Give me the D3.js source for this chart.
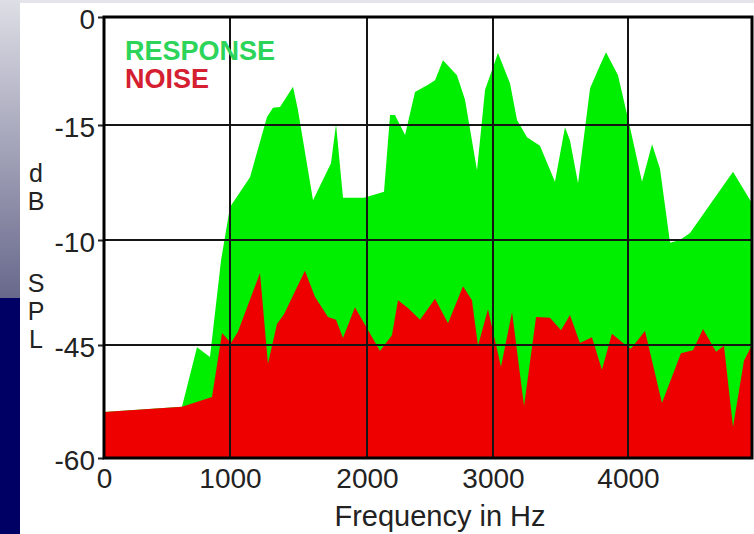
<!DOCTYPE html>
<html>
<head>
<meta charset="utf-8">
<script src="https://cdn.jsdelivr.net/npm/d3@7"></script>
<style>
  body { margin: 0; background: #fff; }
  svg { display: block; }
</style>
</head>
<body>
<div id="chart"></div>
<script>
// frequency (Hz)
var responseHz = [0, 619, 738, 841, 929, 1000, 1146, 1270, 1314, 1365, 1460, 1496, 1606, 1737, 1774, 1825,
  1978, 2135, 2183, 2222, 2302, 2381, 2484, 2540, 2603, 2714, 2778, 2873, 2937, 3037, 3126, 3178, 3252,
  3348, 3459, 3533, 3570, 3630, 3719, 3793, 3837, 3926, 4016, 4113, 4194, 4258, 4339, 4419, 4500, 4847, 5000];
var responseDb = [-53.9, -53.2, -45.3, -46.6, -32.9, -25.7, -21.8, -13.9, -12.6, -12.5, -9.7, -12.9, -24.8, -20.0, -14.9, -24.5,
  -24.5, -23.7, -13.6, -13.6, -16.3, -10.4, -9.4, -8.8, -6.0, -8.1, -11.5, -20.9, -10.1, -5.0, -9.2, -14.3, -16.6,
  -17.7, -22.4, -15.3, -17.0, -22.6, -9.9, -6.7, -4.9, -8.1, -15.3, -22.4, -17.5, -20.7, -30.4, -30.0, -29.1, -21.1, -25.2];

var noiseHz = [0, 619, 857, 937, 1007, 1058, 1219, 1277, 1343, 1394, 1547, 1620, 1715, 1774, 1825, 1912,
  2000, 2103, 2198, 2246, 2325, 2421, 2540, 2643, 2762, 2833, 2881, 2960, 3059, 3141, 3230, 3319, 3422,
  3504, 3570, 3644, 3733, 3807, 3881, 3963, 4024, 4137, 4274, 4427, 4524, 4605, 4710, 4774, 4847, 4935, 5000];
var noiseDb = [-53.9, -53.2, -51.9, -43.3, -44.7, -43.1, -34.7, -47.5, -42.0, -40.6, -34.4, -38.1, -41.0, -41.4, -44.0, -39.6,
  -42.6, -45.8, -43.6, -38.6, -39.7, -41.4, -38.4, -41.9, -36.6, -38.6, -45.1, -39.9, -47.9, -40.3, -53.1, -41.0, -41.1,
  -42.9, -40.7, -44.7, -43.9, -48.3, -43.4, -44.7, -45.5, -43.0, -52.7, -46.1, -45.7, -42.7, -45.9, -45.1, -55.9, -47.1, -45.0];

var xTicks = [0, 1000, 2000, 3000, 4000];
var yTicks = [0, -15, -30, -45, -60];
var yTickLabels = ["0", "-15", "-10", "-45", "-60"];   // as printed on the original
var yTitle = ["dB", "SPL"];

var W = 754, H = 534;
var font = "'Liberation Sans', Arial, sans-serif";
var svg = d3.select("#chart").append("svg")
  .attr("width", W)
  .attr("height", H);

// slide background strip on the left
var defs = svg.append("defs");
var grad = defs.append("linearGradient")
  .attr("id", "strip")
  .attr("x1", 0).attr("y1", 0).attr("x2", 0).attr("y2", 1);
grad.append("stop").attr("offset", "0%").attr("stop-color", "#dedee6");
grad.append("stop").attr("offset", "100%").attr("stop-color", "#68688c");

svg.append("rect").attr("x", 0).attr("y", 0).attr("width", W).attr("height", 3).attr("fill", "#e4e4ea");
svg.append("rect").attr("x", 0).attr("y", 0).attr("width", 20).attr("height", 298).attr("fill", "url(#strip)");
svg.append("rect").attr("x", 0).attr("y", 298).attr("width", 20).attr("height", H - 298).attr("fill", "#000064");

// the grid is not evenly spaced in the picture
var x = d3.scaleLinear()
  .domain([0, 1000, 2000, 3000, 4000, 5000])
  .range([104, 230, 367, 493, 628, 752]);
var y = d3.scaleLinear()
  .domain([0, -15, -30, -45, -60])
  .range([17, 125, 240, 345, 458]);

var area = d3.area()
  .x(function(d) { return x(d[0]); })
  .y0(y(-60))
  .y1(function(d) { return y(d[1]); });

var response = d3.zip(responseHz, responseDb);
var noise = d3.zip(noiseHz, noiseDb);

svg.append("path")
  .datum(response)
  .attr("d", area)
  .attr("fill", "#00ee00");

svg.append("path")
  .datum(noise)
  .attr("d", area)
  .attr("fill", "#ee0000");

// grid lines on top of the fills
var grid = svg.append("g").attr("stroke", "#151515").attr("stroke-width", 2);
grid.selectAll(".vx")
  .data(xTicks.slice(1))
  .enter().append("line")
  .attr("x1", function(d) { return x(d); })
  .attr("x2", function(d) { return x(d); })
  .attr("y1", y(0))
  .attr("y2", y(-60));
grid.selectAll(".hy")
  .data(yTicks.slice(1, 4))
  .enter().append("line")
  .attr("x1", x(0))
  .attr("x2", x(5000))
  .attr("y1", function(d) { return y(d); })
  .attr("y2", function(d) { return y(d); });

// axes
var xAxis = d3.axisBottom(x).tickValues(xTicks).tickSize(0).tickPadding(10)
  .tickFormat(d3.format("d"));
var yAxis = d3.axisLeft(y).tickValues(yTicks).tickSize(6).tickPadding(3)
  .tickFormat(function(d, i) { return yTickLabels[i]; });

var gx = svg.append("g").attr("transform", "translate(0," + y(-60) + ")").call(xAxis);
var gy = svg.append("g").attr("transform", "translate(" + x(0) + ",0)").call(yAxis);
[gx, gy].forEach(function(g) {
  g.select(".domain").remove();
  g.selectAll("text")
    .attr("fill", "#222")
    .style("font-family", font)
    .style("font-size", "28px");
  g.selectAll("line").attr("stroke", "#222").attr("stroke-width", 2);
});
gx.selectAll("text").attr("dy", "0.71em");
gy.selectAll("text").attr("dy", "0.4em");

// frame
svg.append("rect")
  .attr("x", x(0))
  .attr("y", y(0))
  .attr("width", x(5000) - x(0))
  .attr("height", y(-60) - y(0))
  .attr("fill", "none")
  .attr("stroke", "#000")
  .attr("stroke-width", 3);

// axis titles
svg.append("text")
  .attr("x", 440)
  .attr("y", 526)
  .attr("text-anchor", "middle")
  .attr("fill", "#222")
  .style("font-family", font)
  .style("font-size", "29px")
  .text("Frequency in Hz");

// vertical "dB SPL", one letter per line
var titleTop = [182, 292];
svg.selectAll(".ytitle")
  .data(yTitle)
  .enter().append("text")
  .attr("class", "ytitle")
  .attr("text-anchor", "middle")
  .attr("fill", "#222")
  .style("font-family", font)
  .style("font-size", "25px")
  .each(function(word, k) {
    var t = d3.select(this);
    word.split("").forEach(function(ch, i) {
      t.append("tspan")
        .attr("x", 36)
        .attr("y", titleTop[k] + i * 28)
        .text(ch);
    });
  });

// legend
svg.append("text")
  .attr("x", 125).attr("y", 60)
  .attr("fill", "#2cd45a")
  .style("font-family", font)
  .style("font-size", "27px")
  .style("font-weight", "bold")
  .text("RESPONSE");
svg.append("text")
  .attr("x", 125).attr("y", 88)
  .attr("fill", "#d42030")
  .style("font-family", font)
  .style("font-size", "27px")
  .style("font-weight", "bold")
  .text("NOISE");
</script>
</body>
</html>
